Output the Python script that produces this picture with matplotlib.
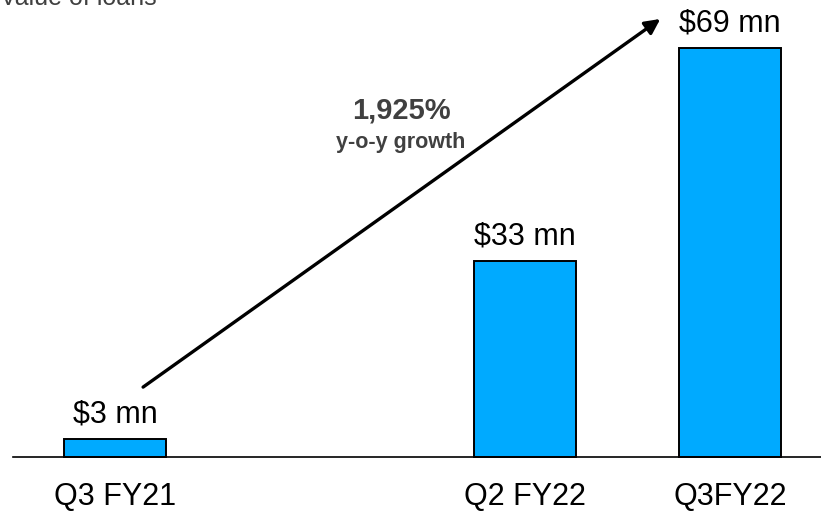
import matplotlib
matplotlib.use("Agg")
import matplotlib.pyplot as plt

# ── Data ──────────────────────────────────────────────────────────────────────
categories = ["Q3 FY21", "Q2 FY22", "Q3FY22"]
positions = [0, 2, 3]           # gap between FY21 and FY22 quarters
values = [3, 33, 69]            # value of loans, $ mn
value_labels = ["$3 mn", "$33 mn", "$69 mn"]

BAR_COLOR = "#00AAFF"
TEXT_GRAY = "#404040"

plt.rcParams["font.family"] = ["Liberation Sans", "DejaVu Sans"]

fig = plt.figure(figsize=(8.21, 5.11), dpi=100)
ax = fig.add_axes([0, 0, 1, 1])
ax.set_xlim(-0.561, 3.444)
ax.set_ylim(-9.1, 77.1)
ax.axis("off")

ax.bar(positions, values, width=0.5, color=BAR_COLOR,
       edgecolor="black", linewidth=1.4, zorder=2)
ax.axhline(0, xmin=0.016, xmax=1, color="black", linewidth=1.2, zorder=3)

for x, v, lab in zip(positions, values, value_labels):
    ax.annotate(lab, (x, v), xytext=(0, 18), textcoords="offset points",
                ha="center", va="center", fontsize=22, color="black")

for x, cat in zip(positions, categories):
    ax.text(x, -6.8, cat, ha="center", va="center", fontsize=22, color="black")

# growth arrow
ax.annotate("", xy=(2.66, 73.9), xytext=(0.137, 11.8),
            arrowprops=dict(arrowstyle="-|>,head_length=0.9,head_width=0.45",
                            color="black", lw=2.4, shrinkA=0, shrinkB=0))
ax.text(1.395, 58.4, "1,925%", ha="center", va="center",
        fontsize=21, fontweight="bold", color=TEXT_GRAY)
ax.text(1.395, 53.0, "y-o-y growth", ha="center", va="center",
        fontsize=15.5, fontweight="bold", color=TEXT_GRAY)

fig.text(0.0, 1 - 5 / 511, "Value of loans", ha="left", va="baseline",
         fontsize=18, color=TEXT_GRAY)

fig.savefig("out.png", dpi=100)
